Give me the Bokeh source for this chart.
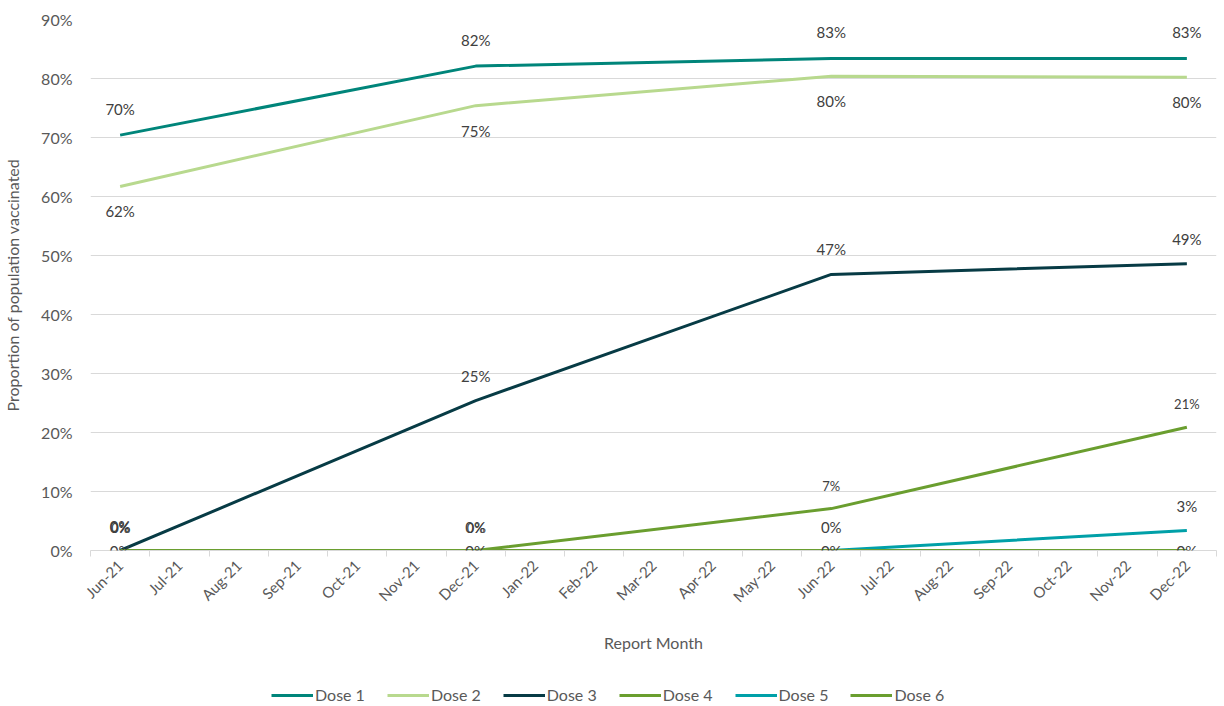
import math
from bokeh.plotting import figure
from bokeh.layouts import column
from bokeh.core.properties import value
from bokeh.models import (ColumnDataSource, LabelSet, FixedTicker, Legend,
                          LegendItem, PrintfTickFormatter, Range1d)
from bokeh.embed import file_html
from bokeh.resources import INLINE

# ---------------- data ----------------
months = ["Jun-21", "Jul-21", "Aug-21", "Sep-21", "Oct-21", "Nov-21", "Dec-21",
          "Jan-22", "Feb-22", "Mar-22", "Apr-22", "May-22", "Jun-22", "Jul-22",
          "Aug-22", "Sep-22", "Oct-22", "Nov-22", "Dec-22"]
report_months = ["Jun-21", "Dec-21", "Jun-22", "Dec-22"]
dose1 = [70.4, 82.1, 83.4, 83.4]
dose2 = [61.7, 75.4, 80.4, 80.2]
dose3 = [0.0, 25.4, 46.8, 48.6]
dose4 = [0.0, 0.0, 7.1, 20.9]
dose5 = [0.0, 0.0, 0.0, 3.4]
dose6 = [0.0, 0.0, 0.0, 0.0]
series_names = ["Dose 1", "Dose 2", "Dose 3", "Dose 4", "Dose 5", "Dose 6"]
y_ticks = [0, 10, 20, 30, 40, 50, 60, 70, 80, 90]

# ---------------- styling ----------------
FONT = "Lato"
colors = ["#00857a", "#b8d98e", "#073b45", "#6a9e2f", "#00a0a8", "#6a9e2f"]
label_offsets = [26, -25, 25, 23, 24, 0]
label_sizes = ["15px", "15px", "15px", "13px", "15px", "15px"]

x = [months.index(m) for m in report_months]
all_series = [dose1, dose2, dose3, dose4, dose5, dose6]

p = figure(width=1220, height=666, output_backend="svg", toolbar_location=None,
           x_range=Range1d(-0.5, len(months) - 0.5), y_range=Range1d(0, 90),
           min_border_left=89, min_border_right=4, min_border_top=19,
           min_border_bottom=116)
p.outline_line_color = None
p.background_fill_color = "white"
p.border_fill_color = "white"

# axes
p.xaxis.ticker = FixedTicker(ticks=list(range(len(months))),
                             minor_ticks=[i - 0.5 for i in range(len(months) + 1)])
p.xaxis.major_label_overrides = {i: m for i, m in enumerate(months)}
p.xaxis.major_label_orientation = math.pi / 4
p.xaxis.major_tick_line_color = None
p.xaxis.minor_tick_line_color = "#d9d9d9"
p.xaxis.minor_tick_in = 0
p.xaxis.minor_tick_out = 6
p.xaxis.axis_line_color = "#d9d9d9"
p.xaxis.axis_line_width = 1
p.xaxis.major_label_text_font = FONT
p.xaxis.major_label_text_font_size = "15px"
p.xaxis.major_label_text_color = "#595959"
p.xaxis.major_label_standoff = 6
p.xaxis.axis_label = "Report Month"
p.xaxis.axis_label_text_font = FONT
p.xaxis.axis_label_text_font_size = "16px"
p.xaxis.axis_label_text_font_style = "normal"
p.xaxis.axis_label_text_color = "#595959"
p.xaxis.axis_label_standoff = 18

p.yaxis.ticker = FixedTicker(ticks=y_ticks)
p.yaxis.formatter = PrintfTickFormatter(format="%d%%")
p.yaxis.axis_line_color = None
p.yaxis.major_tick_line_color = None
p.yaxis.minor_tick_line_color = None
p.yaxis.major_label_text_font = FONT
p.yaxis.major_label_text_font_size = "16px"
p.yaxis.major_label_text_color = "#595959"
p.yaxis.major_label_standoff = 12
p.yaxis.axis_label = "Proportion of population vaccinated"
p.yaxis.axis_label_text_font = FONT
p.yaxis.axis_label_text_font_size = "16px"
p.yaxis.axis_label_text_font_style = "normal"
p.yaxis.axis_label_text_color = "#595959"
p.yaxis.axis_label_standoff = 16

p.xgrid.grid_line_color = None
p.ygrid.grid_line_color = "#d9d9d9"
p.ygrid.grid_line_width = 1

for vals, col in zip(all_series, colors):
    src = ColumnDataSource(dict(x=x, y=vals))
    p.line("x", "y", source=src, line_color=col, line_width=3)

for vals, off, fs in zip(all_series, label_offsets, label_sizes):
    src = ColumnDataSource(dict(x=x, y=vals, t=[f"{round(v):d}%" for v in vals]))
    ls = LabelSet(x="x", y="y", text="t", source=src, y_offset=off,
                  text_align="center", text_baseline="middle",
                  text_font=value(FONT), text_font_size=value(fs),
                  text_color="#404040")
    p.add_layout(ls)

# ---------------- legend strip (separate figure) ----------------
lg = figure(width=1220, height=38, output_backend="svg", toolbar_location=None,
            x_range=Range1d(1000, 1001), y_range=Range1d(1000, 1001),
            x_axis_type=None, y_axis_type=None,
            min_border_left=0, min_border_right=0, min_border_top=0,
            min_border_bottom=0)
lg.outline_line_color = None
lg.xgrid.grid_line_color = None
lg.ygrid.grid_line_color = None
items = []
for name, vals, col in zip(series_names, all_series, colors):
    src = ColumnDataSource(dict(x=x, y=vals))
    r = lg.line("x", "y", source=src, line_color=col, line_width=3)
    items.append(LegendItem(label=name, renderers=[r]))

legend = Legend(items=items, orientation="horizontal", location=(181, 0),
                label_text_font=FONT, label_text_font_size="16px",
                label_text_color="#595959", glyph_width=42, glyph_height=16,
                label_height=16, label_standoff=2, spacing=22,
                border_line_color=None, background_fill_alpha=0,
                padding=2, margin=0)
lg.add_layout(legend)

layout = column(p, lg, spacing=0)
open("out.html", "w").write(file_html(layout, INLINE))
